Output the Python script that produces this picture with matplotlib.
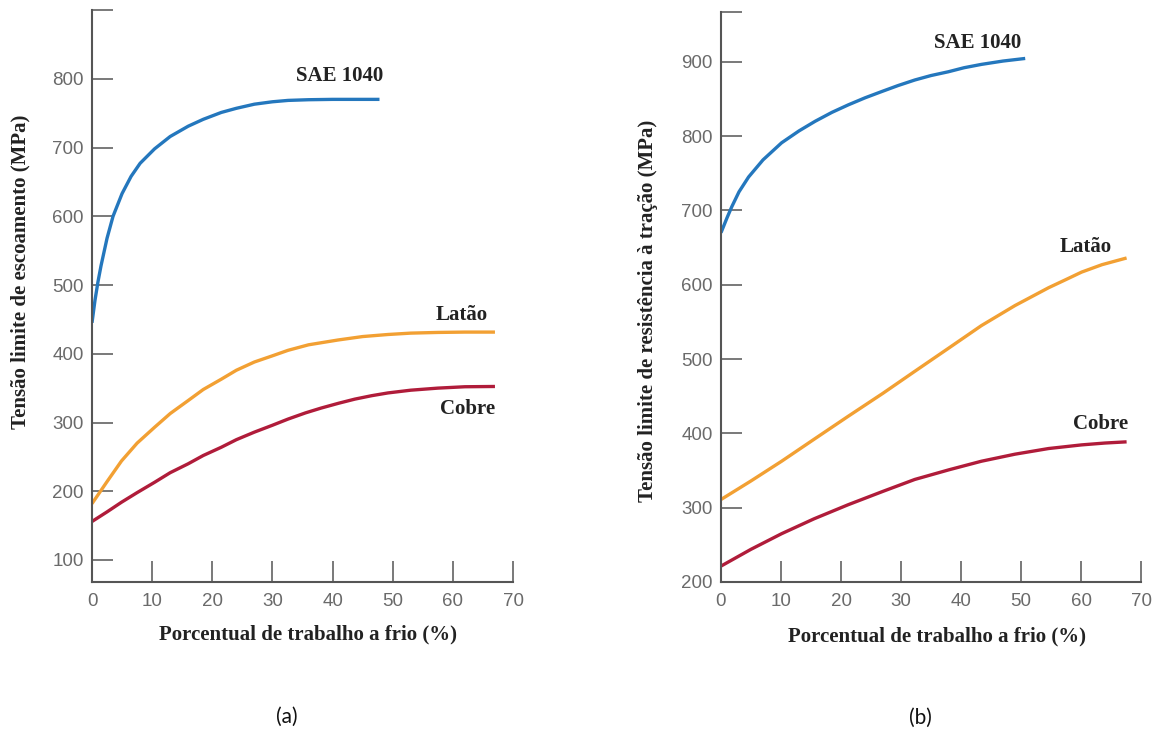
import matplotlib
matplotlib.use("Agg")
import matplotlib.pyplot as plt

# ---- data: panel (a) yield strength ----
a_sae_x = [0, 0.5, 1, 1.5, 2.5, 3.5, 5, 6.5, 8, 10.4, 13, 16, 18.5, 21.5, 24, 27, 30, 32.6, 36, 40, 44, 47.8]
a_sae_y = [445, 478, 505, 528, 568, 600, 633, 658, 677, 698, 716, 731, 741, 751, 757, 763, 766.5, 768.5, 769.5, 770, 770, 770]
a_lat_x = [0, 2.5, 4.9, 7.5, 10.4, 13, 16, 18.5, 21.5, 24, 27, 30, 32.6, 36, 40.9, 45, 49.2, 53, 57.5, 62, 67]
a_lat_y = [182, 214, 244, 270, 293, 313, 332, 348, 363, 376, 388, 397, 405, 413, 420, 425, 428, 430, 431, 431.5, 431.5]
a_cob_x = [0, 2.5, 4.9, 7.5, 10.4, 13, 16, 18.5, 21.5, 24, 27, 30, 32.6, 35.5, 38.1, 41, 43.7, 46.5, 49.2, 53, 57.5, 62, 67]
a_cob_y = [156, 170, 184, 198, 213, 227, 240, 252, 264, 275, 286, 296, 305, 314, 321, 328, 334, 339, 343, 347, 350, 352, 352.4]

# ---- data: panel (b) tensile strength ----
b_sae_x = [0, 1, 1.8, 3, 4.6, 7, 10.1, 13, 15.7, 18.5, 21.2, 24, 26.8, 29.5, 32.3, 35, 37.9, 40.5, 43.4, 47, 50.7]
b_sae_y = [670, 690, 705, 725, 745, 768, 791, 807, 820, 832, 842, 851.5, 860, 868, 875.5, 881.5, 886.6, 892, 896.5, 901, 904.5]
b_lat_x = [0, 5, 10.1, 15.5, 21.2, 27, 32.3, 38, 43.4, 49, 54.6, 57.5, 60.1, 63.5, 67.6]
b_lat_y = [311, 336, 362.5, 392, 423, 454, 483.5, 515, 545, 572, 596, 607, 617, 627, 636]
b_cob_x = [0, 5, 10.1, 15.5, 21.2, 27, 32.3, 38, 43.4, 49, 54.6, 60.1, 64, 67.6]
b_cob_y = [221.4, 244, 265, 285, 304, 322, 338, 351, 362.5, 372, 379.6, 384.5, 387, 388.6]

x_ticks = [0, 10, 20, 30, 40, 50, 60, 70]
a_y_ticks = [100, 200, 300, 400, 500, 600, 700, 800]
b_y_ticks = [200, 300, 400, 500, 600, 700, 800, 900]

BLUE = "#2477bd"
ORANGE = "#f2a033"
RED = "#b01c3a"
SERIF = ["Liberation Serif", "DejaVu Serif"]
SANS = ["Liberation Sans", "DejaVu Sans"]

fig = plt.figure(figsize=(11.64, 7.33), dpi=100)
W, H = 1164, 733

def make_axes(x0, x1, ytop, ybot):
    return fig.add_axes([x0 / W, (H - ybot) / H, (x1 - x0) / W, (ybot - ytop) / H])

axA = make_axes(92, 513, 10, 582)
axB = make_axes(721, 1141, 12, 582)

def style(ax, ylim, yticks):
    ax.set_xlim(0, 70)
    ax.set_ylim(*ylim)
    for s in ["top", "right"]:
        ax.spines[s].set_visible(False)
    for s in ["left", "bottom"]:
        ax.spines[s].set_color("#555555")
        ax.spines[s].set_linewidth(1.5)
    ax.set_xticks(x_ticks)
    ax.set_xticklabels([str(t) for t in x_ticks])
    ticks = yticks + [ylim[1]]
    ax.set_yticks(ticks)
    ax.set_yticklabels([str(t) for t in yticks] + [""])
    ax.tick_params(direction="in", length=15, width=1.1, color="#555555",
                   labelcolor="#6a6a6a", labelsize=13.5)
    ax.tick_params(axis="x", pad=8)
    ax.tick_params(axis="y", pad=6)
    for lab in ax.get_xticklabels() + ax.get_yticklabels():
        lab.set_family(SANS)

style(axA, (68, 900), a_y_ticks)
style(axB, (200, 967), b_y_ticks)

lw = 2.4
for ax, xs, ys, c in [(axA, a_sae_x, a_sae_y, BLUE), (axA, a_lat_x, a_lat_y, ORANGE),
                      (axA, a_cob_x, a_cob_y, RED), (axB, b_sae_x, b_sae_y, BLUE),
                      (axB, b_lat_x, b_lat_y, ORANGE), (axB, b_cob_x, b_cob_y, RED)]:
    ax.plot(xs, ys, color=c, lw=lw, solid_capstyle="butt", solid_joinstyle="round")

lab_kw = dict(family=SERIF, fontweight="bold", fontsize=15, color="#222222",
              ha="center", va="center")
axA.text(41.2, 804, "SAE 1040", **lab_kw)
axA.text(61.4, 456, "Latão", **lab_kw)
axA.text(62.4, 320, "Cobre", **lab_kw)
axB.text(42.7, 925, "SAE 1040", **lab_kw)
axB.text(60.8, 651, "Latão", **lab_kw)
axB.text(63.2, 413, "Cobre", **lab_kw)

ax_kw = dict(family=SERIF, fontweight="bold", fontsize=15, color="#222222")
axA.set_xlabel("Porcentual de trabalho a frio (%)", **ax_kw)
axB.set_xlabel("Porcentual de trabalho a frio (%)", **ax_kw)
axA.set_ylabel("Tensão limite de escoamento (MPa)", **ax_kw)
axB.set_ylabel("Tensão limite de resistência à tração (MPa)", **ax_kw)
for ax, xl, yl in [(axA, (0.513, -0.091), (-0.171, 0.542)),
                   (axB, (0.514, -0.095), (-0.174, 0.475))]:
    ax.xaxis.label.set_va("center")
    ax.xaxis.set_label_coords(*xl)
    ax.yaxis.label.set_va("center")
    ax.yaxis.set_label_coords(*yl)

fig.text(287 / W, 1 - 717 / H, "(a)", family=["Lato", "DejaVu Sans"], fontsize=15,
         ha="center", va="center", color="#111111")
fig.text(920 / W, 1 - 718 / H, "(b)", family=["Lato", "DejaVu Sans"], fontsize=15,
         ha="center", va="center", color="#111111")

fig.savefig("out.png", dpi=100, facecolor="white")
